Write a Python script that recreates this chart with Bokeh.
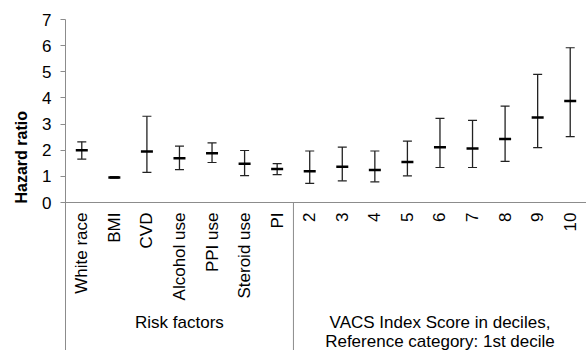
import math
from bokeh.plotting import figure
from bokeh.models import FactorRange, Range1d, FixedTicker, ColumnDataSource, Title
from bokeh.embed import file_html
from bokeh.resources import INLINE

group_rf = "Risk factors"
group_vacs = "VACS Index Score in deciles,\nReference category: 1st decile"
risk_factors = ["White race", "BMI", "CVD", "Alcohol use", "PPI use", "Steroid use", "PI"]
deciles = ["2", "3", "4", "5", "6", "7", "8", "9", "10"]
hr = [2.00, 0.96, 1.95, 1.69, 1.88, 1.48, 1.28,
      1.20, 1.37, 1.24, 1.55, 2.11, 2.07, 2.43, 3.25, 3.88]
lower = [1.66, 0.93, 1.15, 1.26, 1.53, 1.03, 1.07,
         0.73, 0.83, 0.79, 1.02, 1.34, 1.34, 1.57, 2.10, 2.52]
upper = [2.32, 0.99, 3.30, 2.16, 2.28, 1.99, 1.49,
         1.97, 2.12, 1.97, 2.35, 3.22, 3.14, 3.69, 4.90, 5.92]
y_ticks = [0, 1, 2, 3, 4, 5, 6, 7]

FONT = "Liberation Sans"
FS = "17px"
GRAY = "#8c8c8c"

factors = [(group_rf, c) for c in risk_factors] + [(group_vacs, d) for d in deciles]
src = ColumnDataSource(dict(x=factors, hr=hr, lower=lower, upper=upper))

y_bottom = -5.66
p = figure(width=586, height=350,
           x_range=FactorRange(*factors, factor_padding=0, group_padding=0, range_padding=0),
           y_range=Range1d(y_bottom, 7),
           output_backend="svg", toolbar_location=None,
           min_border_left=64, min_border_right=0, min_border_top=19, min_border_bottom=0)
p.outline_line_color = None
p.xgrid.visible = False
p.ygrid.visible = False
p.background_fill_color = "white"

# y axis
ya = p.yaxis[0]
ya.ticker = FixedTicker(ticks=y_ticks)
ya.minor_tick_line_color = None
ya.major_tick_out = 5
ya.major_tick_in = 0
ya.major_label_standoff = 9
ya.axis_line_color = GRAY
ya.major_tick_line_color = GRAY
ya.major_label_text_font = FONT
ya.major_label_text_font_size = FS
ya.major_label_text_color = "black"

# y axis title, placed beside the 0-7 scale
ytitle = Title(text="Hazard ratio", align="left", offset=147, standoff=20,
               text_font=FONT, text_font_size="16px", text_font_style="bold",
               text_color="black")
p.add_layout(ytitle, "left")

# x axis, placed at y = 0 inside the frame
xa = p.xaxis[0]
xa.fixed_location = 0
xa.axis_line_color = GRAY
xa.major_tick_line_color = None
xa.major_tick_out = 0
xa.major_tick_in = 0
xa.major_label_orientation = math.pi / 2
xa.major_label_standoff = 10
xa.major_label_text_font = FONT
xa.major_label_text_font_size = FS
xa.major_label_text_color = "black"
xa.group_text_font = FONT
xa.group_text_font_size = FS
xa.group_text_font_style = "normal"
xa.group_text_color = "black"
xa.group_text_line_height = 0.97
xa.separator_line_color = None

# group separator below the axis
p.segment(x0=[len(risk_factors)], y0=[0], x1=[len(risk_factors)], y1=[y_bottom],
          line_color=GRAY, line_width=1)

# error bars
p.segment(x0="x", y0="lower", x1="x", y1="upper", source=src, line_color="#222222", line_width=1.3)
p.scatter(x="x", y="upper", marker="dash", size=9, line_color="#222222", line_width=1.2, source=src)
p.scatter(x="x", y="lower", marker="dash", size=9, line_color="#222222", line_width=1.2, source=src)
p.scatter(x="x", y="hr", marker="dash", size=12, line_color="black", line_width=2.5, source=src)

open("out.html", "w").write(file_html(p, INLINE))
